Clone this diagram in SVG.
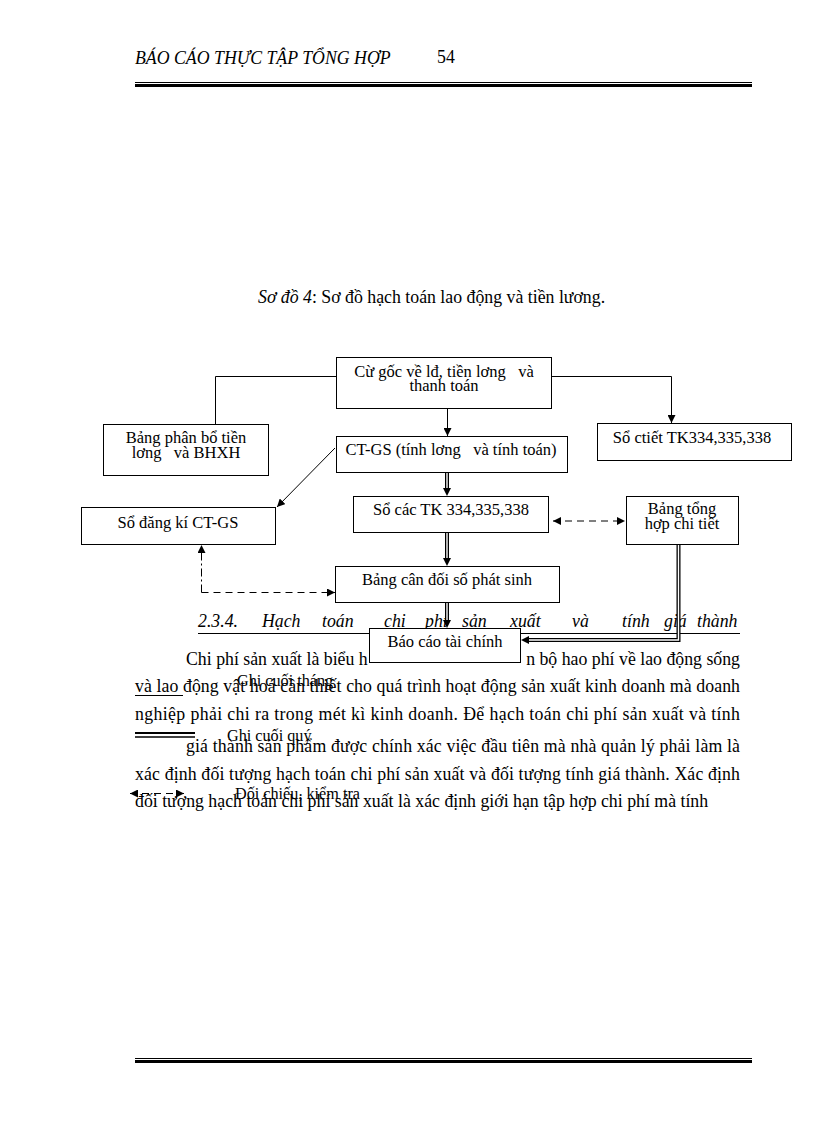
<svg xmlns="http://www.w3.org/2000/svg" width="816" height="1123" viewBox="0 0 816 1123">
<style>
  .bg { fill: #ffffff; }
  .box { fill: #ffffff; stroke: #000000; stroke-width: 1; }
  .lbl { font-family: "Liberation Serif", "DejaVu Serif", serif; font-size: 16.5px; fill: #000000; text-anchor: middle; white-space: pre; }
  .body { font-family: "Liberation Serif", "DejaVu Serif", serif; font-size: 17.8px; fill: #000000; white-space: pre; }
  .leg { font-family: "Liberation Serif", "DejaVu Serif", serif; font-size: 16.2px; fill: #000000; white-space: pre; }
  .it { font-style: italic; }
  .ln { fill: none; stroke: #000000; stroke-width: 1; }
  .dblo { fill: none; stroke: #000000; stroke-width: 4; }
  .dbli { fill: none; stroke: #ffffff; stroke-width: 1.4; }
  .dash { fill: none; stroke: #000000; stroke-width: 1; stroke-dasharray: 7 5; }
  .dashdot { fill: none; stroke: #000000; stroke-width: 1; stroke-dasharray: 8 3 2 3; }
</style>
<defs>
  <marker id="arr" viewBox="0 0 10 10" refX="10" refY="5" markerWidth="8" markerHeight="8" markerUnits="userSpaceOnUse" orient="auto-start-reverse">
    <path d="M0,0 L10,5 L0,10 z" fill="#000000"/>
  </marker>
</defs>
<rect class="bg" x="0" y="0" width="816" height="1123"/>

<!-- header -->
<g id="header">
  <text class="body it" x="135" y="64" font-size="16.3">BÁO CÁO THỰC TẬP TỔNG HỢP</text>
  <text class="body" x="437" y="63" font-size="16.3">54</text>
  <line x1="135" y1="82.5" x2="752" y2="82.5" stroke="#000" stroke-width="1"/>
  <line x1="135" y1="85.5" x2="752" y2="85.5" stroke="#000" stroke-width="3"/>
</g>

<!-- caption -->
<text class="body" x="258" y="303" font-size="16.7"><tspan class="it">Sơ đồ 4</tspan>: Sơ đồ hạch toán lao động và tiền lương.</text>

<!-- section heading and body text -->
<g id="bodytext">
  <text class="body it" y="627" font-size="17.5"><tspan x="198">2.3.4.</tspan><tspan x="262">Hạch</tspan><tspan x="322">toán</tspan><tspan x="384">chi</tspan><tspan x="425">phí</tspan><tspan x="462">sản</tspan><tspan x="510">xuất</tspan><tspan x="572">và</tspan><tspan x="622">tính</tspan><tspan x="664">giá</tspan><tspan x="697">thành</tspan></text>
  <line x1="198" y1="633.5" x2="740" y2="633.5" stroke="#000" stroke-width="1"/>
  <text class="body" x="186" y="665">Chi phí sản xuất là biểu h</text>
  <text class="body" x="740" y="665" text-anchor="end">n bộ hao phí về lao động sống</text>
  <text class="body" x="135" y="692" textLength="605" lengthAdjust="spacing">và lao động vật hoá cần thiết cho quá trình hoạt động sản xuất kinh doanh mà doanh</text>
  <text class="body" x="135" y="720" textLength="605" lengthAdjust="spacing">nghiệp phải chi ra trong mét kì kinh doanh. Để hạch toán chi phí sản xuất và tính</text>
  <text class="body" x="186" y="752" textLength="554" lengthAdjust="spacing">giá thành sản phẩm được chính xác việc đầu tiên mà nhà quản lý phải làm là</text>
  <text class="body" x="135" y="780" textLength="605" lengthAdjust="spacing">xác định đối tượng hạch toán chi phí sản xuất và đối tượng tính giá thành. Xác định</text>
  <text class="body" x="135" y="807">đối tượng hạch toán chi phí sản xuất là xác định giới hạn tập hợp chi phí mà tính</text>
</g>

<!-- legend -->
<g id="legend">
  <line x1="135" y1="695.5" x2="183" y2="695.5" stroke="#000" stroke-width="1"/>
  <text class="leg" x="237" y="686">Ghi cuối tháng</text>
  <line x1="135" y1="733" x2="195" y2="733" stroke="#000" stroke-width="2"/>
  <line x1="135" y1="737" x2="195" y2="737" stroke="#000" stroke-width="1.5"/>
  <text class="leg" x="227" y="741">Ghi cuối quý</text>
  <path class="dash" d="M130,793.5 L184,793.5" marker-start="url(#arr)" marker-end="url(#arr)"/>
  <text class="leg" x="235" y="799">Đối chiếu, kiểm tra</text>
</g>

<!-- nodes -->
<g id="n-chungtu">
  <rect class="box" x="336.5" y="357.5" width="215" height="51"/>
  <text class="lbl" x="444" y="377">Cừ gốc về lđ, tiền lơng   và</text>
  <text class="lbl" x="444" y="391">thanh toán</text>
</g>
<g id="n-bangphanbo">
  <rect class="box" x="103.5" y="424.5" width="165" height="51"/>
  <text class="lbl" x="186" y="443">Bảng phân bổ tiền</text>
  <text class="lbl" x="186" y="458">lơng   và BHXH</text>
</g>
<g id="n-soctiet">
  <rect class="box" x="597.5" y="423.5" width="194" height="37"/>
  <text class="lbl" x="692" y="443">Sổ ctiết TK334,335,338</text>
</g>
<g id="n-ctgs">
  <rect class="box" x="336.5" y="436.5" width="231" height="36"/>
  <text class="lbl" x="451" y="455">CT-GS (tính lơng   và tính toán)</text>
</g>
<g id="n-sodangki">
  <rect class="box" x="81.5" y="507.5" width="194" height="37"/>
  <text class="lbl" x="178" y="528">Sổ đăng kí CT-GS</text>
</g>
<g id="n-socactk">
  <rect class="box" x="353.5" y="496.5" width="195" height="36"/>
  <text class="lbl" x="451" y="515">Sổ các TK 334,335,338</text>
</g>
<g id="n-bangtonghop">
  <rect class="box" x="626.5" y="496.5" width="112" height="48"/>
  <text class="lbl" x="682" y="514">Bảng tổng</text>
  <text class="lbl" x="682" y="529">hợp chi tiết</text>
</g>
<g id="n-bangcandoi">
  <rect class="box" x="335.5" y="566.5" width="224" height="36"/>
  <text class="lbl" x="447" y="585">Bảng cân đối số phát sinh</text>
</g>
<g id="n-baocao">
  <rect class="box" x="369.5" y="628.5" width="151" height="34"/>
  <text class="lbl" x="445" y="647">Báo cáo tài chính</text>
</g>

<!-- connectors -->
<g id="connectors">
  <path class="ln" d="M336,376.5 L215.5,376.5 L215.5,424"/>
  <path class="ln" d="M552,376.5 L671.5,376.5 L671.5,423" marker-end="url(#arr)"/>
  <path class="ln" d="M447.5,409 L447.5,436" marker-end="url(#arr)"/>
  <path class="ln" d="M335,448 L277,507" marker-end="url(#arr)"/>
  <path class="dblo" d="M447,473 L447,490"/>
  <path class="dbli" d="M447,473 L447,496" marker-end="url(#arr)"/>
  <path class="dblo" d="M447,533 L447,560"/>
  <path class="dbli" d="M447,533 L447,566" marker-end="url(#arr)"/>
  <path class="dblo" d="M447,603 L447,622"/>
  <path class="dbli" d="M447,603 L447,628" marker-end="url(#arr)"/>
  <path class="dblo" d="M678.5,545 L678.5,640 L527,640"/>
  <path class="dbli" d="M678.5,545 L678.5,640 L521,640" marker-end="url(#arr)"/>
  <path class="dash" d="M553,521 L625,521" marker-start="url(#arr)" marker-end="url(#arr)"/>
  <path class="dashdot" d="M201.5,592.5 L201.5,545" marker-end="url(#arr)"/>
  <path class="dash" d="M201.5,592.5 L335,592.5" marker-end="url(#arr)"/>
</g>

<!-- footer -->
<g id="footer">
  <line x1="135" y1="1058.5" x2="752" y2="1058.5" stroke="#000" stroke-width="1"/>
  <line x1="135" y1="1061.5" x2="752" y2="1061.5" stroke="#000" stroke-width="3"/>
</g>
</svg>
